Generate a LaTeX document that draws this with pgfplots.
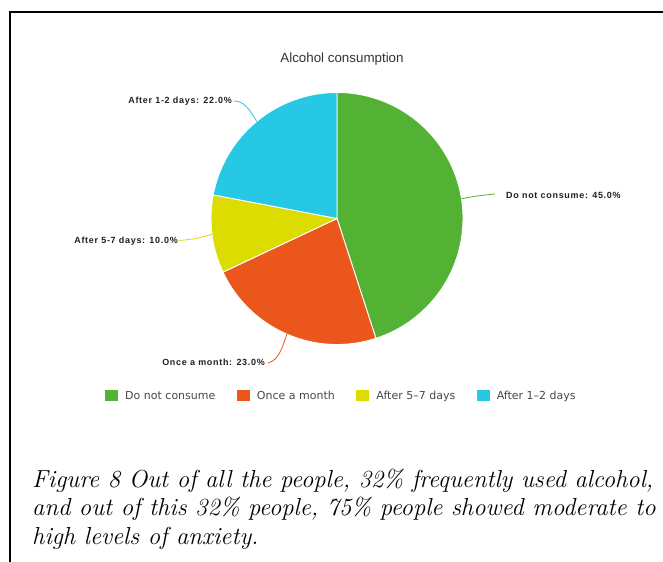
\documentclass[border=0pt]{standalone}
\usepackage{pgfplots}
\pgfplotsset{compat=1.18}
\usepackage{pgfplotstable}
\usepackage{fontspec}
\newfontfamily\titlefont{Liberation Sans}
\newfontfamily\lblfont[LetterSpace=8]{Liberation Sans}
\newfontfamily\legfont{DejaVu Sans}
\definecolor{cgreen}{HTML}{53B234}
\definecolor{corange}{HTML}{EA561B}
\definecolor{cyellow}{HTML}{DCDC00}
\definecolor{ccyan}{HTML}{26C8E3}

\pgfplotstableread[col sep=comma]{
label,value,color
Do not consume,45.0,cgreen
Once a month,23.0,corange
After 5-7 days,10.0,cyellow
After 1-2 days,22.0,ccyan
}\piedata

\begin{document}
\begin{tikzpicture}
\begin{axis}[
  scale only axis, width=663bp, height=562bp,
  xmin=0, xmax=663, ymin=0, ymax=562,
  hide axis, clip=false,
  legend columns=4,
  legend style={draw=none, fill=none,
    at={(axis description cs:0.1584,0.2954)}, anchor=west,
    inner sep=0pt, nodes={inner sep=0pt},
    font=\legfont\fontsize{11.05}{13}\selectfont, text=black!72,
    /tikz/every odd column/.style={column sep=7bp},
    /tikz/every even column/.style={column sep=21.5bp}},
  legend image code/.code={\fill[#1, draw=none] (0bp,-5.5bp) rectangle (13bp,5.5bp);},
]
% frame
\draw[line width=2.5bp] (axis cs:10,-5) -- (axis cs:10,550) -- (axis cs:670,550);
% title
\node[anchor=base, inner sep=0pt, text=black!80, font=\titlefont\fontsize{13.4}{16}\selectfont]
  at (axis cs:342,499) {Alcohol consumption};
% pie wedges from the table
\pgfplotstablegetrowsof{\piedata}
\pgfmathtruncatemacro\nrows{\pgfplotsretval-1}
\def\cum{0}
\pgfplotsforeachungrouped \i in {0,...,\nrows}{%
  \pgfplotstablegetelem{\i}{value}\of\piedata \let\v\pgfplotsretval
  \pgfplotstablegetelem{\i}{color}\of\piedata \let\c\pgfplotsretval
  \pgfmathsetmacro\a{90-3.6*\cum}%
  \pgfmathsetmacro\b{90-3.6*(\cum+\v)}%
  \pgfmathsetmacro\cum{\cum+\v}%
  \edef\cmd{\noexpand\fill[\c, draw=white, line width=0.9bp, line join=round]
    (axis cs:337,343.5) -- ++(\a:126bp) arc[start angle=\a, end angle=\b, radius=126bp] -- cycle;}%
  \cmd
}
% connectors
\draw[cgreen, line width=0.8bp] (axis cs:461.4,363.2) .. controls (axis cs:476,366) .. (axis cs:495,368);
\draw[ccyan, line width=0.8bp] (axis cs:234,461) .. controls (axis cs:244,461) and (axis cs:250,452) .. (axis cs:256.7,440.6);
\draw[cyellow, line width=0.8bp] (axis cs:179,321.5) .. controls (axis cs:195,323) .. (axis cs:212,327.7);
\draw[corange, line width=0.8bp] (axis cs:287,228) .. controls (axis cs:282,214) and (axis cs:279,202) .. (axis cs:268,199);
% labels
\node[anchor=base west, inner sep=0pt, text=black!88, font=\lblfont\bfseries\fontsize{9}{11}\selectfont]
  at (axis cs:506,363) {Do not consume: 45.0\%};
\node[anchor=base east, inner sep=0pt, text=black!88, font=\lblfont\bfseries\fontsize{9}{11}\selectfont]
  at (axis cs:232,458.7) {After 1-2 days: 22.0\%};
\node[anchor=base east, inner sep=0pt, text=black!88, font=\lblfont\bfseries\fontsize{9}{11}\selectfont]
  at (axis cs:178,318) {After 5-7 days: 10.0\%};
\node[anchor=base east, inner sep=0pt, text=black!88, font=\lblfont\bfseries\fontsize{9}{11}\selectfont]
  at (axis cs:265,196) {Once a month: 23.0\%};
% legend
\addlegendimage{fill=cgreen}\addlegendentry{Do not consume}
\addlegendimage{fill=corange}\addlegendentry{Once a month}
\addlegendimage{fill=cyellow}\addlegendentry{After 5–7 days}
\addlegendimage{fill=ccyan}\addlegendentry{After 1–2 days}
% caption
\node[anchor=base west, inner sep=0pt, font=\itshape\fontsize{24.7}{28}\selectfont]
  at (axis cs:32,74) {Figure 8 Out of all the people, 32\% frequently used alcohol,};
\node[anchor=base west, inner sep=0pt, font=\itshape\fontsize{24.7}{28}\selectfont]
  at (axis cs:32,46) {and out of this 32\% people, 75\% people showed moderate to};
\node[anchor=base west, inner sep=0pt, font=\itshape\fontsize{24.7}{28}\selectfont]
  at (axis cs:32,18) {high levels of anxiety.};
\coordinate (BL) at (axis cs:0,0);
\coordinate (TR) at (axis cs:663,562);
\end{axis}
\pgfresetboundingbox
\path[use as bounding box] (BL) rectangle (TR);
\end{tikzpicture}
\end{document}
